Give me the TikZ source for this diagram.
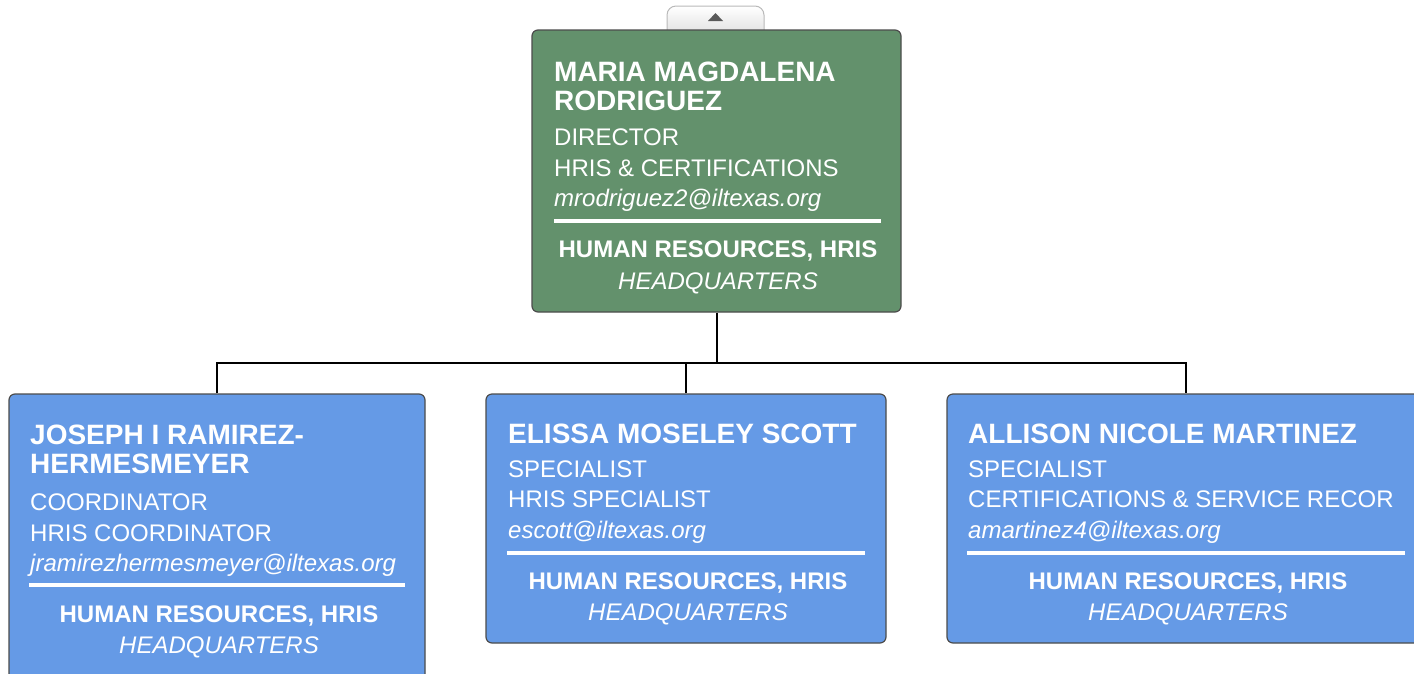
\documentclass[tikz,border=0pt]{standalone}
\usepackage{fontspec}
\setmainfont{Liberation Sans}
\usepackage{tikz}
\definecolor{dirgreen}{RGB}{99,145,108}
\definecolor{staffblue}{RGB}{101,154,230}
\tikzset{
  box/.style={draw=black!70, line width=1.2pt, rounded corners=6pt, inner sep=0pt},
  nm/.style={anchor=base west, inner sep=0pt, text=white, font=\fontsize{28}{30}\selectfont\bfseries},
  ln/.style={anchor=base west, inner sep=0pt, text=white, font=\fontsize{24}{26}\selectfont},
  ml/.style={ln, font=\fontsize{24}{26}\selectfont\itshape},
  dept/.style={anchor=base, inner sep=0pt, text=white, font=\fontsize{24}{26}\selectfont\bfseries},
  site/.style={dept, font=\fontsize{24}{26}\selectfont\itshape},
  rule/.style={white, line width=4.5pt},
  link/.style={black, line width=2pt}
}

\begin{document}
\begin{tikzpicture}[x=1pt,y=-1pt]
  \useasboundingbox (0,0) rectangle (1414,673);
  \clip (0,0) rectangle (1414,673);
  \draw[top color=white, bottom color=gray!25, draw=gray!55, line width=1pt, rounded corners=9pt] (667,36) -- (667,6) -- (764,6) -- (764,36);
  \fill[black!65] (708,21) -- (723,21) -- (715.5,13) -- cycle;

  \draw (716.5,171) node[box, fill=dirgreen, minimum width=369pt, minimum height=282pt] (maria) {};
  \draw (217,542) node[box, fill=staffblue, minimum width=416pt, minimum height=296pt] (joseph) {};
  \draw (686,518.5) node[box, fill=staffblue, minimum width=400pt, minimum height=249pt] (elissa) {};
  \draw (1186,518.5) node[box, fill=staffblue, minimum width=478pt, minimum height=249pt] (allison) {};

  \coordinate (bus) at (716.5,363);
  \draw[link] (maria.south) -- (bus);
  \draw[link] (joseph.north) |- (bus) -| (allison.north);
  \draw[link] (elissa.north) -- (elissa.north |- bus);

  \draw (554,81) node[nm] (mariaA) {MARIA MAGDALENA};
  \draw (554,110) node[nm] (mariaB) {RODRIGUEZ};
  \draw (554,145) node[ln] (mariaC) {DIRECTOR};
  \draw (554,176) node[ln] (mariaD) {HRIS \& CERTIFICATIONS};
  \draw (554,206) node[ml] (mariaE) {mrodriguez2@iltexas.org};
  \draw[rule] (554,221) -- (881,221);
  \draw (718,257) node[dept] (mariaF) {HUMAN RESOURCES, HRIS};
  \draw (718,289) node[site] (mariaG) {HEADQUARTERS};

  \draw (30,444) node[nm] (josephA) {JOSEPH I RAMIREZ-};
  \draw (30,473) node[nm] (josephB) {HERMESMEYER};
  \draw (30,510) node[ln] (josephC) {COORDINATOR};
  \draw (30,541) node[ln] (josephD) {HRIS COORDINATOR};
  \draw (30,571) node[ml] (josephE) {jramirezhermesmeyer@iltexas.org};
  \draw[rule] (29,585) -- (405,585);
  \draw (219,622) node[dept] (josephF) {HUMAN RESOURCES, HRIS};
  \draw (219,653) node[site] (josephG) {HEADQUARTERS};

  \draw (508,443) node[nm] (elissaA) {ELISSA MOSELEY SCOTT};
  \draw (508,477) node[ln] (elissaC) {SPECIALIST};
  \draw (508,507) node[ln] (elissaD) {HRIS SPECIALIST};
  \draw (508,538) node[ml] (elissaE) {escott@iltexas.org};
  \draw[rule] (507,553) -- (865,553);
  \draw (688,589) node[dept] (elissaF) {HUMAN RESOURCES, HRIS};
  \draw (688,620) node[site] (elissaG) {HEADQUARTERS};

  \draw (968,443) node[nm] (allisonA) {ALLISON NICOLE MARTINEZ};
  \draw (968,477) node[ln] (allisonC) {SPECIALIST};
  \draw (968,507) node[ln] (allisonD) {CERTIFICATIONS \& SERVICE RECOR};
  \draw (968,538) node[ml] (allisonE) {amartinez4@iltexas.org};
  \draw[rule] (967,553) -- (1405,553);
  \draw (1188,589) node[dept] (allisonF) {HUMAN RESOURCES, HRIS};
  \draw (1188,620) node[site] (allisonG) {HEADQUARTERS};
\end{tikzpicture}
\end{document}
